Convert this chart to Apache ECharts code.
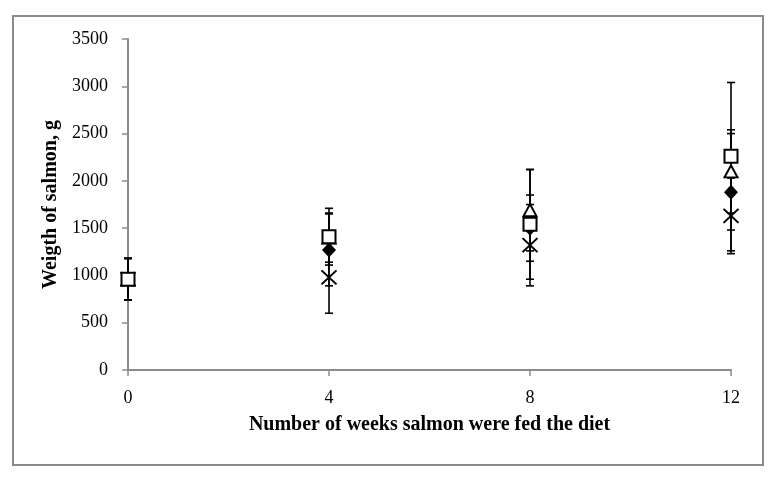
<!DOCTYPE html>
<html>
<head>
<meta charset="utf-8">
<script src="https://cdn.jsdelivr.net/npm/echarts@6/dist/echarts.min.js"></script>
<style>
  html, body { margin: 0; padding: 0; background: #fff; }
  #chart { width: 778px; height: 480px; }
</style>
</head>
<body>
<div id="chart"></div>
<script>
// weeks on the x axis
const weeks = [0, 4, 8, 12];

// mean weight (g) and error for each diet
const diamondMean = [960, 1270, 1500, 1880];
const diamondErr = [220, 380, 350, 620];
const triangleMean = [960, 1400, 1690, 2100];
const triangleErr = [220, 260, 430, 440];
const crossMean = [960, 980, 1320, 1630];
const crossErr = [220, 380, 430, 400];
const squareMean = [960, 1410, 1540, 2260];
const squareErr = [220, 300, 580, 780];

const xTicks = [0, 4, 8, 12];
const yTicks = [0, 500, 1000, 1500, 2000, 2500, 3000, 3500];

const fontFamily = '"Liberation Serif", "DejaVu Serif", serif';
const axisGray = '#8c8c8c';

const chart = echarts.init(document.getElementById('chart'));

// build [x, low, high] rows for the error bar series
const errRows = (mean, err) => weeks.map((w, i) => [w, mean[i] - err[i], mean[i] + err[i]]);
const pts = (mean) => weeks.map((w, i) => [w, mean[i]]);

const renderErr = (params, api) => {
  const x = api.value(0);
  const lo = api.coord([x, api.value(1)]);
  const hi = api.coord([x, api.value(2)]);
  const cap = 4;
  const style = { stroke: '#000', lineWidth: 1.6 };
  return {
    type: 'group',
    children: [
      { type: 'line', shape: { x1: lo[0], y1: lo[1], x2: hi[0], y2: hi[1] }, style },
      { type: 'line', shape: { x1: hi[0] - cap, y1: hi[1], x2: hi[0] + cap, y2: hi[1] }, style },
      { type: 'line', shape: { x1: lo[0] - cap, y1: lo[1], x2: lo[0] + cap, y2: lo[1] }, style }
    ]
  };
};

const errSeries = (mean, err) => ({
  type: 'custom',
  renderItem: renderErr,
  data: errRows(mean, err),
  encode: { x: 0, y: [1, 2] },
  z: 1,
  silent: true
});

const option = {
  animation: false,
  backgroundColor: '#fff',
  graphic: [{
    type: 'rect',
    shape: { x: 13, y: 16, width: 750, height: 449 },
    style: { fill: 'none', stroke: axisGray, lineWidth: 2 },
    silent: true
  }],
  grid: { left: 128, right: 47, top: 39, bottom: 110 },
  xAxis: {
    type: 'value',
    min: xTicks[0],
    max: xTicks[xTicks.length - 1],
    interval: 4,
    name: 'Number of weeks salmon were fed the diet',
    nameLocation: 'middle',
    nameGap: 45,
    nameTextStyle: { fontFamily, fontSize: 20, fontWeight: 'bold', color: '#000' },
    axisLine: { lineStyle: { color: axisGray, width: 2 } },
    axisTick: { show: true, inside: false, length: 6, lineStyle: { color: axisGray, width: 1.5 } },
    axisLabel: { fontFamily, fontSize: 18, color: '#000', margin: 19 },
    splitLine: { show: false }
  },
  yAxis: {
    type: 'value',
    min: yTicks[0],
    max: yTicks[yTicks.length - 1],
    interval: 500,
    name: 'Weigth of salmon, g',
    nameLocation: 'middle',
    nameGap: 59,
    nameTextStyle: { fontFamily, fontSize: 20, fontWeight: 'bold', color: '#000' },
    axisLine: { show: true, lineStyle: { color: axisGray, width: 2 } },
    axisTick: { show: true, inside: false, length: 6, lineStyle: { color: axisGray, width: 1.5 } },
    axisLabel: { fontFamily, fontSize: 18, color: '#000', margin: 20, formatter: (v) => String(v) },
    splitLine: { show: false }
  },
  series: [
    errSeries(diamondMean, diamondErr),
    errSeries(triangleMean, triangleErr),
    errSeries(crossMean, crossErr),
    errSeries(squareMean, squareErr),
    {
      type: 'scatter',
      data: pts(diamondMean),
      symbol: 'diamond',
      symbolSize: [14, 15],
      itemStyle: { color: '#000', opacity: 1 },
      z: 3
    },
    {
      type: 'scatter',
      data: pts(triangleMean),
      symbol: 'triangle',
      symbolSize: [13, 12],
      itemStyle: { color: '#fff', borderColor: '#000', borderWidth: 2, opacity: 1 },
      z: 4
    },
    {
      type: 'scatter',
      data: pts(crossMean),
      symbol: 'path://M0,0L10,10M10,0L0,10',
      symbolSize: [15, 14],
      itemStyle: { color: 'none', borderColor: '#000', borderWidth: 2, opacity: 1 },
      z: 5
    },
    {
      type: 'scatter',
      data: pts(squareMean),
      symbol: 'rect',
      symbolSize: [13, 13],
      itemStyle: { color: '#fff', borderColor: '#000', borderWidth: 2, opacity: 1 },
      z: 6
    }
  ]
};

chart.setOption(option);
</script>
</body>
</html>
